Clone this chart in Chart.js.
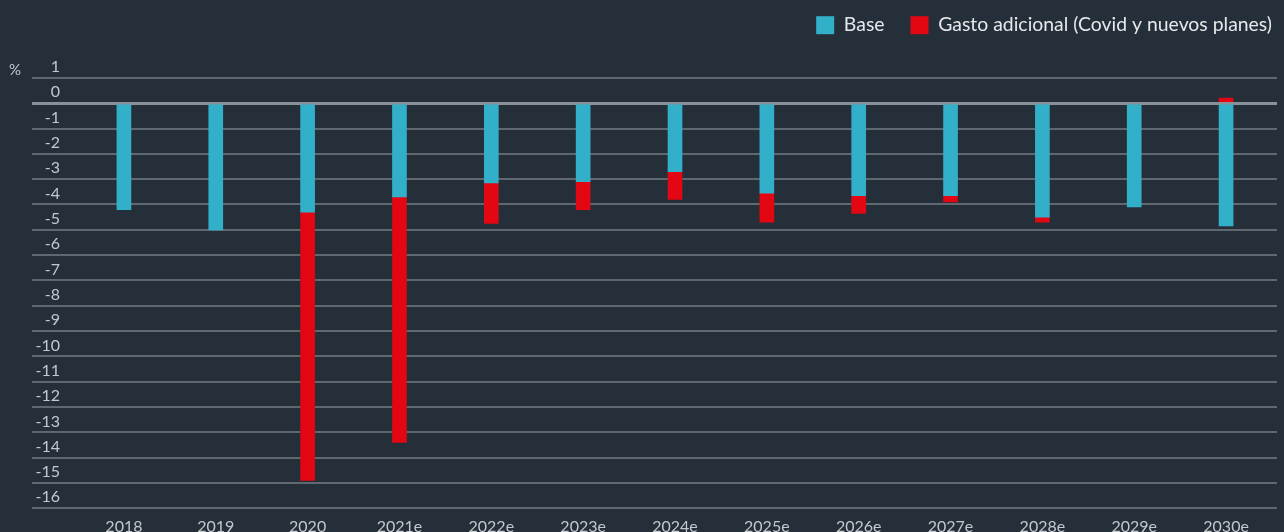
<!DOCTYPE html>
<html>
<head>
<meta charset="utf-8">
<script src="https://cdn.jsdelivr.net/npm/chart.js@4"></script>
<style>
  html, body { margin: 0; padding: 0; background: #252f3a; }
  canvas { display: block; }
</style>
</head>
<body>
<canvas id="deficitChart" width="1284" height="532"></canvas>
<script>
// years on the x axis
const years = ['2018', '2019', '2020', '2021e', '2022e', '2023e', '2024e', '2025e', '2026e', '2027e', '2028e', '2029e', '2030e'];
// base balance, % of GDP
const baseValues = [-4.2, -5.0, -4.3, -3.7, -3.15, -3.1, -2.7, -3.55, -3.65, -3.65, -4.5, -4.1, -4.85];
// extra spending (Covid and new plans)
const extraValues = [null, null, -10.6, -9.7, -1.6, -1.1, -1.1, -1.15, -0.7, -0.25, -0.2, null, 0.2];
const yMin = -16;
const yMax = 1;

const BG = '#252f3a';
const BLUE = '#33b0c9';
const RED = '#e30613';
const GRID = '#5f6871';
const ZERO = '#8a9299';
const FONT = "Lato, 'Open Sans', sans-serif";

const gridColor = ctx => (ctx.tick && ctx.tick.value === 0 ? ZERO : GRID);
const gridWidth = ctx => (ctx.tick && ctx.tick.value === 0 ? 3 : 2);

const bgPlugin = {
    id: 'bg',
    beforeDraw(chart) {
        const c = chart.ctx;
        c.save();
        c.fillStyle = BG;
        c.fillRect(0, 0, chart.width, chart.height);
        c.restore();
    }
};

new Chart(document.getElementById('deficitChart'), {
    type: 'bar',
    data: {
        labels: years,
        datasets: [
            { label: 'Base', data: baseValues, backgroundColor: BLUE, borderWidth: 0, barThickness: 14 },
            { label: 'Gasto adicional (Covid y nuevos planes)', data: extraValues, backgroundColor: RED, borderWidth: 0, barThickness: 14 }
        ]
    },
    options: {
        responsive: false,
        animation: false,
        layout: { padding: { top: -10.5, right: -14, left: 9, bottom: 0 } },
        scales: {
            x: {
                stacked: true,
                grid: { display: false, drawTicks: false },
                border: { display: false },
                ticks: { color: '#c3c8cd', font: { family: FONT, size: 16 }, padding: 9, maxRotation: 0 },
                afterFit: s => { s.height = 23.7; }
            },
            y: {
                stacked: true,
                min: yMin,
                max: yMax,
                border: { display: false },
                grid: { color: gridColor, lineWidth: gridWidth, drawTicks: true, tickLength: 46 },
                ticks: { stepSize: 1, color: '#c3c8cd', font: { family: FONT, size: 16 }, padding: -28, labelOffset: -11 },
                afterFit: s => { s.width = 69; }
            },
            yRight: {
                position: 'right',
                min: yMin,
                max: yMax,
                border: { display: false },
                grid: { color: gridColor, lineWidth: gridWidth, drawOnChartArea: false, drawTicks: true, tickLength: 5 },
                ticks: { stepSize: 1, display: false },
                afterFit: s => { s.width = 26; }
            }
        },
        plugins: {
            legend: {
                position: 'top',
                align: 'end',
                labels: {
                    color: '#e6e8ea',
                    font: { family: FONT, size: 19.4 },
                    boxWidth: 18,
                    boxHeight: 18,
                    padding: 26
                }
            },
            subtitle: {
                display: true,
                text: '%',
                align: 'start',
                position: 'top',
                weight: 500,
                color: '#c3c8cd',
                font: { family: FONT, size: 15, lineHeight: 1 },
                padding: { top: 18, bottom: 0 }
            },
            tooltip: { enabled: false }
        }
    },
    plugins: [bgPlugin]
});
</script>
</body>
</html>
